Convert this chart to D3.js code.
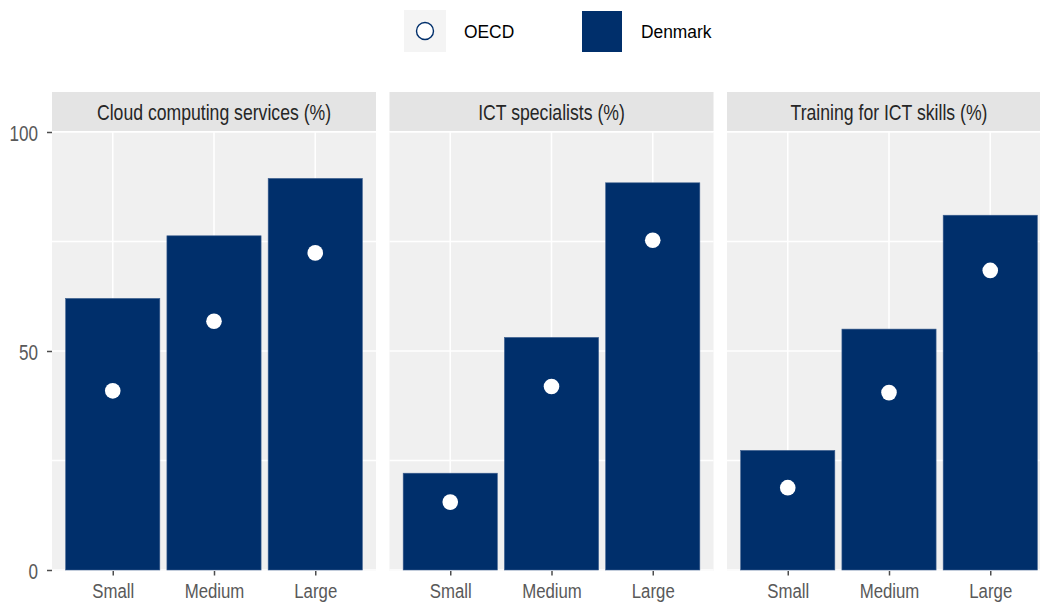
<!DOCTYPE html>
<html>
<head>
<meta charset="utf-8">
<script src="https://cdn.jsdelivr.net/npm/d3@7"></script>
<style>
  body { margin: 0; background: #fff; }
  text { font-family: "Liberation Sans", Arial, sans-serif; }
</style>
</head>
<body>
<div id="myChart"></div>
<script>
// data
const panels = ["Cloud computing services (%)", "ICT specialists (%)", "Training for ICT skills (%)"];
const sizes = ["Small", "Medium", "Large"];
const denmark = [
  [62, 76.3, 89.4],
  [22.1, 53.1, 88.4],
  [27.3, 55.0, 81.0]
];
const oecd = [
  [40.9, 56.8, 72.4],
  [15.5, 41.9, 75.3],
  [18.8, 40.5, 68.4]
];
const yTicks = [0, 50, 100];
const yMinor = [25, 75];

const W = 1040, H = 602;
const navy = "#002f6b";

const svg = d3.select("#myChart").append("svg")
  .attr("width", W).attr("height", H);

const panelW = 324, panelTop = 132, panelBottom = 571;
const stripTop = 92, stripBottom = 131;
const px = d3.scaleLinear().domain([0, 1]).range([52, 389.5]);

const y = d3.scaleLinear().domain([0, 100]).range([570, 132]);

function sqText(g, x, yy, txt, s) {
  return g.append("text")
    .attr("transform", "translate(" + x + "," + yy + ") scale(" + s + ",1)")
    .text(txt);
}

// legend
const leg = svg.append("g");
leg.append("rect").attr("x", 404).attr("y", 10).attr("width", 42).attr("height", 42).attr("fill", "#f4f4f4");
leg.append("circle").attr("cx", 425).attr("cy", 31).attr("r", 8.5)
  .attr("fill", "#fff").attr("stroke", navy).attr("stroke-width", 1.4);
sqText(leg, 464, 38, "OECD", 0.94).style("font-size", "18.5px").attr("fill", "#000");
leg.append("rect").attr("x", 582).attr("y", 11).attr("width", 40).attr("height", 41).attr("fill", navy);
sqText(leg, 641, 38, "Denmark", 0.94).style("font-size", "18.5px").attr("fill", "#000");

panels.forEach(function (name, i) {
  const g = svg.append("g").attr("transform", "translate(" + px(i) + ",0)");

  const x = d3.scalePoint().domain(sizes).range([0, panelW]).padding(0.6);
  const bw = x.step() * 0.93;

  // strip
  g.append("rect").attr("x", 0).attr("y", stripTop).attr("width", panelW)
    .attr("height", stripBottom - stripTop).attr("fill", "#e4e4e4");
  sqText(g, panelW / 2, 120, name, 0.82)
    .attr("text-anchor", "middle").style("font-size", "21.5px").attr("fill", "#262626");

  // panel background
  g.append("rect").attr("x", 0).attr("y", panelTop).attr("width", panelW)
    .attr("height", panelBottom - panelTop).attr("fill", "#f0f0f0");

  // grid
  g.selectAll(".minor").data(yMinor).enter().append("line")
    .attr("x1", 0).attr("x2", panelW)
    .attr("y1", d => y(d)).attr("y2", d => y(d))
    .attr("stroke", "#fff").attr("stroke-width", 1.4);
  g.selectAll(".major").data(yTicks).enter().append("line")
    .attr("x1", 0).attr("x2", panelW)
    .attr("y1", d => y(d)).attr("y2", d => y(d))
    .attr("stroke", "#fff").attr("stroke-width", 1.6);
  g.selectAll(".vgrid").data(sizes).enter().append("line")
    .attr("x1", d => x(d)).attr("x2", d => x(d))
    .attr("y1", panelTop).attr("y2", panelBottom)
    .attr("stroke", "#fff").attr("stroke-width", 1.6);

  // bars
  g.selectAll(".bar").data(sizes).enter().append("rect")
    .attr("class", "bar")
    .attr("x", d => x(d) - bw / 2)
    .attr("width", bw)
    .attr("y", (d, j) => y(denmark[i][j]))
    .attr("height", (d, j) => y(0) - y(denmark[i][j]))
    .attr("fill", navy)
    .attr("stroke", "#3d5f8f").attr("stroke-width", 0.6);

  // OECD points
  g.selectAll(".pt").data(sizes).enter().append("circle")
    .attr("cx", d => x(d))
    .attr("cy", (d, j) => y(oecd[i][j]))
    .attr("r", 7.8)
    .attr("fill", "#fff");

  // x axis
  const xa = g.append("g").attr("transform", "translate(0," + panelBottom + ")")
    .call(d3.axisBottom(x).tickSize(4.5).tickPadding(4));
  xa.select(".domain").remove();
  xa.selectAll("line").attr("stroke", "#4d4d4d").attr("stroke-width", 1.5);
  xa.selectAll("text")
    .attr("y", 0).attr("dy", 0)
    .attr("transform", "translate(0,26.5) scale(0.8,1)")
    .style("font-size", "21px").style("font-family", "Liberation Sans, Arial, sans-serif")
    .attr("fill", "#595959");

  // y axis only on first panel
  if (i === 0) {
    const ya = g.append("g")
      .call(d3.axisLeft(y).tickValues(yTicks).tickSize(5).tickPadding(6));
    ya.select(".domain").remove();
    ya.selectAll("line").attr("stroke", "#4d4d4d").attr("stroke-width", 1.5);
    ya.selectAll("text")
      .attr("x", 0).attr("dy", 0)
      .attr("transform", "translate(-14,8) scale(0.76,1)")
      .style("font-size", "22.5px").style("font-family", "Liberation Sans, Arial, sans-serif")
      .attr("fill", "#595959");
  }
});
</script>
</body>
</html>
